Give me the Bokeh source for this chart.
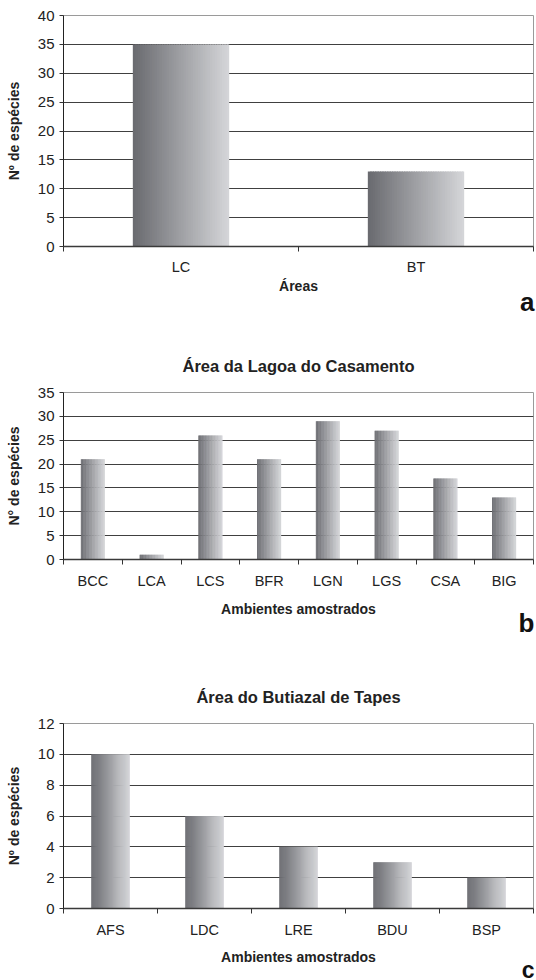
from bokeh.plotting import figure
from bokeh.layouts import column
from bokeh.models import Range1d, FixedTicker, Title
from bokeh.embed import file_html
from bokeh.resources import INLINE

# ---- data ----
areas = ["LC", "BT"]
areas_vals = [35, 13]
areas_yticks = [0, 5, 10, 15, 20, 25, 30, 35, 40]

lc_amb = ["BCC", "LCA", "LCS", "BFR", "LGN", "LGS", "CSA", "BIG"]
lc_vals = [21, 1, 26, 21, 29, 27, 17, 13]
lc_yticks = [0, 5, 10, 15, 20, 25, 30, 35]

bt_amb = ["AFS", "LDC", "LRE", "BDU", "BSP"]
bt_vals = [10, 6, 4, 3, 2]
bt_yticks = [0, 2, 4, 6, 8, 10, 12]

FONT = "Liberation Sans"
BW = 0.41
NSLICE = 40
C0 = (106, 107, 112)
C1 = (212, 213, 216)


def make(cats, vals, yticks, ytitle, xtitle, title, letter, FH, top, bottom,
         xl_standoff, xt_standoff, title_standoff, letter_standoff, letter_size):
    n = len(cats)
    p = figure(width=None, height=None, frame_width=470, frame_height=FH,
               x_range=Range1d(0, n),
               y_range=Range1d(yticks[0], yticks[-1]),
               output_backend="svg", toolbar_location=None,
               min_border_left=63, min_border_right=3,
               min_border_top=top, min_border_bottom=bottom)
    p.background_fill_color = "white"
    p.border_fill_color = "white"
    p.outline_line_color = "#9a9a9a"
    p.outline_line_width = 1

    centers = [i + 0.5 for i in range(n)]
    w = BW / NSLICE
    for k in range(NSLICE):
        t = k / (NSLICE - 1)
        col = "#%02x%02x%02x" % tuple(int(round(a + (b - a) * t)) for a, b in zip(C0, C1))
        lefts = [c - BW / 2 + k * w for c in centers]
        rights = [min(c - BW / 2 + (k + 1.6) * w, c + BW / 2) for c in centers]
        p.quad(left=lefts, right=rights, top=vals, bottom=0,
               fill_color=col, line_color=None)

    # x axis: labels at centres, ticks at category boundaries
    p.xaxis.ticker = FixedTicker(ticks=centers, minor_ticks=list(range(n + 1)))
    p.xaxis.major_label_overrides = {c: cat for c, cat in zip(centers, cats)}
    p.xaxis.major_tick_out = 0
    p.xaxis.major_tick_in = 0
    p.xaxis.minor_tick_out = 5
    p.xaxis.minor_tick_in = 0
    p.xaxis.minor_tick_line_color = "#333333"
    p.xaxis.axis_line_color = "#3a3a3a"
    p.xaxis.axis_line_width = 1.6
    p.xaxis.major_label_standoff = xl_standoff
    p.xaxis.axis_label = xtitle
    p.xaxis.axis_label_standoff = xt_standoff
    p.xaxis.major_label_text_font_size = "14.5px"
    p.xgrid.visible = False

    p.yaxis.ticker = FixedTicker(ticks=yticks)
    p.yaxis.major_tick_out = 4
    p.yaxis.major_tick_in = 0
    p.yaxis.minor_tick_line_color = None
    p.yaxis.major_tick_line_color = "#333333"
    p.yaxis.axis_line_color = "#222222"
    p.yaxis.major_label_standoff = 5
    p.yaxis.axis_label = ytitle
    p.yaxis.axis_label_standoff = 13
    p.yaxis.major_label_text_font_size = "15px"
    p.ygrid.ticker = FixedTicker(ticks=yticks)
    p.ygrid.grid_line_color = "#404040"
    p.ygrid.grid_line_width = 1

    for ax in (p.xaxis, p.yaxis):
        ax.major_label_text_font = FONT
        ax.major_label_text_color = "#222222"
        ax.axis_label_text_font = FONT
        ax.axis_label_text_font_size = "14px"
        ax.axis_label_text_font_style = "bold"
        ax.axis_label_text_color = "#222222"

    if title:
        p.title.text = title
        p.title.align = "center"
        p.title.text_font = FONT
        p.title.text_font_size = "16.5px"
        p.title.text_font_style = "bold"
        p.title.text_color = "#222222"
        p.title.standoff = title_standoff
    else:
        p.title.visible = False

    p.add_layout(Title(text=letter, align="right", offset=-1, text_font=FONT,
                       text_font_size=letter_size, text_font_style="bold",
                       text_color="#111111", standoff=letter_standoff), "below")
    return p


pa = make(areas, areas_vals, areas_yticks, "Nº de espécies", "Áreas", None, "a",
          231, 15, 80, 7, 0, 0, -24, "26px")
pb = make(lc_amb, lc_vals, lc_yticks, "N° de espécies", "Ambientes amostrados",
          "Área da Lagoa do Casamento", "b", 167, 66, 82, 8, 9, 36, -28, "26px")
pc = make(bt_amb, bt_vals, bt_yticks, "Nº de espécies", "Ambientes amostrados",
          "Área do Butiazal de Tapes", "c", 185, 82, 72, 8, 8, 35, -31, "23px")

layout = column(pa, pb, pc, spacing=0)
open("out.html", "w").write(file_html(layout, INLINE))
